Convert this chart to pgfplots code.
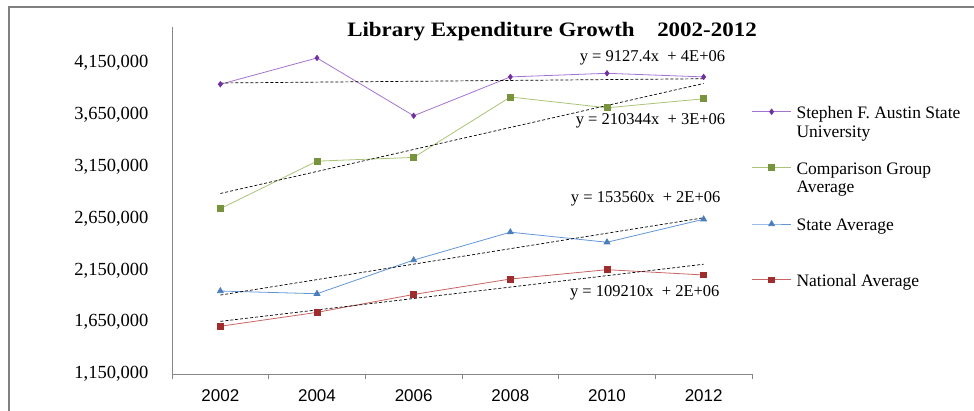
\documentclass[border=0pt]{standalone}
\usepackage{fontspec}
\setmainfont{Liberation Serif}
\newfontfamily\xfont{Liberation Sans}
\newfontfamily\titlefont[FakeStretch=1.12]{Liberation Serif}
\usepackage{pgfplots}
\pgfplotsset{compat=1.18}
\usepackage{pgfplotstable}

\definecolor{sfaL}{RGB}{165,115,210}
\definecolor{sfaM}{RGB}{112,48,160}
\definecolor{cmpL}{RGB}{170,195,120}
\definecolor{cmpM}{RGB}{119,147,60}
\definecolor{stL}{RGB}{100,150,215}
\definecolor{stM}{RGB}{74,126,187}
\definecolor{naL}{RGB}{200,100,100}
\definecolor{naM}{RGB}{160,45,45}
\definecolor{axgray}{RGB}{134,134,134}

\pgfplotstableread{
x sfa cmp st na
0 3947000 2746000 1951000 1611000
1 4201000 3205000 1925000 1745000
2 3643000 3241000 2250000 1918000
3 4018000 3824000 2519000 2067000
4 4053000 3720000 2422000 2157000
5 4018000 3807000 2644000 2106000
}\data

\newcommand{\legtxt}[1]{\smash{\raisebox{-7.5pt}{\hspace{3pt}#1}}}

\begin{document}
\begin{tikzpicture}
\useasboundingbox (0pt,0pt) rectangle (974pt,410pt);
\draw[color=gray, line width=2.2pt] (9pt,-5pt) -- (9pt,403pt) -- (985pt,403pt);
\node[anchor=base, font=\titlefont\bfseries\fontsize{20.5}{20.5}\selectfont] at (552pt,373pt) {Library Expenditure Growth\hspace{1.1em}2002-2012};
\begin{axis}[
  at={(172pt,36pt)}, anchor=south west,
  scale only axis, width=580pt, height=347pt,
  xmin=-0.5, xmax=5.5, ymin=1150000, ymax=4500000,
  axis x line=bottom, axis y line=left,
  axis line style={-, axgray, line width=0.8pt},
  ytick={1150000,1650000,2150000,2650000,3150000,3650000,4150000},
  scaled y ticks=false,
  yticklabel style={/pgf/number format/fixed, /pgf/number format/1000 sep={,},
     /pgf/number format/assume math mode=true,
     font=\fontsize{18.5}{18.5}\selectfont, xshift=-20pt},
  xtick={0,...,5}, xticklabels={2002,2004,2006,2008,2010,2012},
  minor xtick={-0.5,0.5,...,5.5},
  major tick length=0pt, minor tick length=5pt, tick align=outside,
  x tick style={axgray, line width=0.8pt}, y tick style={draw=none},
  xticklabel style={font=\xfont\fontsize{17}{17}\selectfont, yshift=-12pt},
  legend style={at={(0.994,0.770)}, anchor=north west, draw=none, fill=none,
     font=\fontsize{17.5}{18.5}\selectfont, row sep=50.2pt,
     cells={anchor=west}},
  legend cell align=left,
  legend image code/.code={\draw[mark repeat=2,mark phase=2,#1] plot coordinates {(0pt,0pt)(19.5pt,0pt)(39pt,0pt)};},
  clip=false,
]
\addplot[sfaL, line width=0.8pt, mark=diamond*, mark size=2.6pt, mark options={sfaM, fill=sfaM}] table[x=x,y=sfa]{\data};
\addlegendentry{\legtxt{\begin{tabular}[t]{@{}l@{}}Stephen F. Austin State\\University\end{tabular}}}
\addplot[cmpL, line width=0.8pt, mark=square*, mark size=2.9pt, mark options={cmpM, fill=cmpM}] table[x=x,y=cmp]{\data};
\addlegendentry{\legtxt{\begin{tabular}[t]{@{}l@{}}Comparison Group\\Average\end{tabular}}}
\addplot[stL, line width=0.8pt, mark=triangle*, mark size=3.3pt, mark options={stM, fill=stM}] table[x=x,y=st]{\data};
\addlegendentry{\legtxt{State Average}}
\addplot[naL, line width=0.8pt, mark=square*, mark size=2.9pt, mark options={naM, fill=naM}] table[x=x,y=na]{\data};
\addlegendentry{\legtxt{National Average}}

\addplot[black, densely dashed, line width=0.7pt, forget plot] table[x=x, y={create col/linear regression={y=sfa}}]{\data};
\addplot[black, densely dashed, line width=0.7pt, forget plot] table[x=x, y={create col/linear regression={y=cmp}}]{\data};
\addplot[black, densely dashed, line width=0.7pt, forget plot] table[x=x, y={create col/linear regression={y=st}}]{\data};
\addplot[black, densely dashed, line width=0.7pt, forget plot] table[x=x, y={create col/linear regression={y=na}}]{\data};

\node[font=\fontsize{16.5}{16.5}\selectfont] at (axis cs:4.47,4201000) {y = 9127.4x\enspace+ 4E+06};
\node[font=\fontsize{16.5}{16.5}\selectfont] at (axis cs:4.45,3595000) {y = 210344x\enspace+ 3E+06};
\node[font=\fontsize{16.5}{16.5}\selectfont] at (axis cs:4.40,2840000) {y = 153560x\enspace+ 2E+06};
\node[font=\fontsize{16.5}{16.5}\selectfont] at (axis cs:4.39,1935000) {y = 109210x\enspace+ 2E+06};
\end{axis}
\end{tikzpicture}
\end{document}
